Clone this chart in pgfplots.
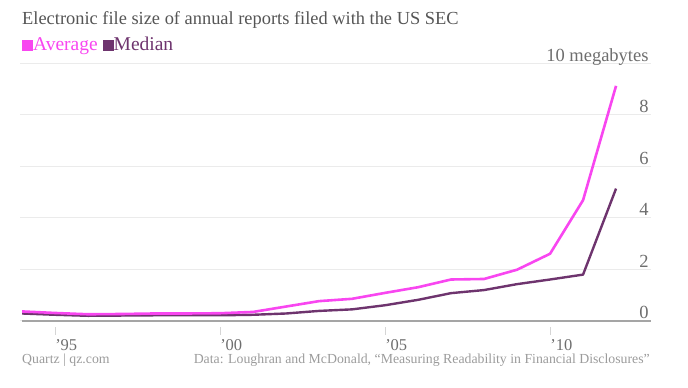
\documentclass[border=0pt]{standalone}
\usepackage{fontspec}
\setmainfont{Liberation Serif}
\usepackage{pgfplots}
\pgfplotsset{compat=1.18}
\definecolor{avgc}{RGB}{248,70,240}
\definecolor{medc}{RGB}{110,52,110}
\definecolor{titlec}{RGB}{85,85,85}
\definecolor{tickc}{RGB}{110,110,110}
\definecolor{footc}{RGB}{155,155,155}
\definecolor{gridc}{RGB}{235,235,235}
\definecolor{basec}{RGB}{165,165,165}
\begin{document}
\begin{tikzpicture}[x=1pt,y=1pt]
\useasboundingbox (0,0) rectangle (688,388);
\begin{axis}[
  at={(20.4pt,67.3pt)}, anchor=south west,
  scale only axis, width=630.3pt, height=257.5pt,
  xmin=1993.95, xmax=2013.05, ymin=0, ymax=10,
  axis line style={draw=none},
  clip=false,
  xtick={1995,2000,2005,2010},
  xticklabels={’95,’00,’05,’10},
  major tick length=0pt,
  xticklabel style={anchor=north west, inner sep=0pt, yshift=-18.5pt, font=\fontsize{16.5}{16.5}\selectfont, text=tickc},
  ytick={0,2,4,6,8,10},
  yticklabels={0,2,4,6,8,10 megabytes},
  yticklabel pos=right,
  yticklabel style={anchor=base east, inner sep=0pt, xshift=-2pt, yshift=2pt, font=\fontsize{18.5}{19}\selectfont, text=tickc},
  ymajorgrids, grid style={draw=gridc, line width=0.8pt},
  /pgf/number format/assume math mode=true,
]
\draw[basec, line width=2pt] (axis cs:1994,0) -- (axis cs:2013.05,0);
\pgfplotsinvokeforeach{1995,2000,2005,2010}{
  \draw[gridc!80!gray, line width=0.8pt] (axis cs:#1,-0.25) -- (axis cs:#1,-0.55);
}
\addplot[medc, line width=2.4pt, line join=round, mark=none] coordinates {
(1994,0.28) (1995,0.23) (1996,0.19) (1997,0.20) (1998,0.21) (1999,0.21) (2000,0.21)
(2001,0.23) (2002,0.28) (2003,0.38) (2004,0.44) (2005,0.60) (2006,0.81) (2007,1.07)
(2008,1.19) (2009,1.42) (2010,1.60) (2011,1.79) (2012,5.13)
};
\addplot[avgc, line width=2.6pt, line join=round, mark=none] coordinates {
(1994,0.36) (1995,0.30) (1996,0.25) (1997,0.26) (1998,0.28) (1999,0.28) (2000,0.29)
(2001,0.34) (2002,0.55) (2003,0.76) (2004,0.85) (2005,1.08) (2006,1.30) (2007,1.60)
(2008,1.62) (2009,1.98) (2010,2.60) (2011,4.68) (2012,9.12)
};
\end{axis}
\node[anchor=west, inner sep=0pt, text=titlec, font=\fontsize{18.4}{20}\selectfont] at (22,368) {Electronic file size of annual reports filed with the US SEC};
\node[anchor=west, inner sep=0pt, font=\fontsize{19.5}{20}\selectfont] at (22,342) {\textcolor{avgc}{\rule{11pt}{11pt}Average} \textcolor{medc}{\rule{11pt}{11pt}Median}};
\node[anchor=west, inner sep=0pt, text=footc, font=\fontsize{13.8}{16}\selectfont] at (22,27.5) {Quartz | qz.com};
\node[anchor=east, inner sep=0pt, text=footc, font=\fontsize{13.8}{16}\selectfont] at (650,27.5) {Data: Loughran and McDonald, “Measuring Readability in Financial Disclosures”};
\end{tikzpicture}
\end{document}
